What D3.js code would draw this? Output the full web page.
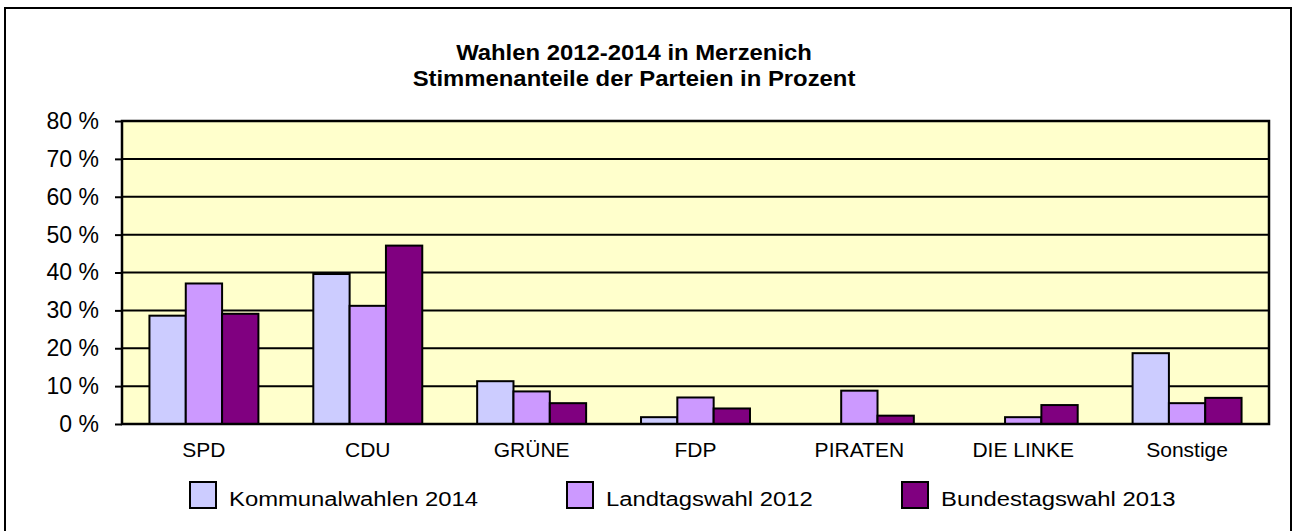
<!DOCTYPE html>
<html>
<head>
<meta charset="utf-8">
<script src="https://cdn.jsdelivr.net/npm/d3@7"></script>
<style>
  body { margin: 0; background: #fff; }
  text { font-family: "Liberation Sans", Arial, sans-serif; fill: #000; }
</style>
</head>
<body>
<script>
const parteien = ['SPD', 'CDU', 'GRÜNE', 'FDP', 'PIRATEN', 'DIE LINKE', 'Sonstige']
const wahlen = ['Kommunalwahlen 2014', 'Landtagswahl 2012', 'Bundestagswahl 2013']
const kommunal2014 = [28.6, 39.6, 11.3, 1.8, 0, 0, 18.7]
const landtag2012 = [37.1, 31.2, 8.6, 7.0, 8.8, 1.8, 5.5]
const bundestag2013 = [29.1, 47.1, 5.5, 4.1, 2.2, 5.0, 6.9]
const yTicks = [0, 10, 20, 30, 40, 50, 60, 70, 80]
const farben = ['#CCCCFF', '#CC99FF', '#800080']

const reihen = [kommunal2014, landtag2012, bundestag2013]
const data = parteien.map((p, i) => ({
  partei: p,
  werte: wahlen.map((w, j) => ({ wahl: w, wert: reihen[j][i] }))
}))

const W = 1297, H = 531
const margin = { top: 121, right: 28, bottom: 107, left: 122 }

const svg = d3.select('body').append('svg')
  .attr('width', W)
  .attr('height', H)

// outer frame
svg.append('rect')
  .attr('x', 5).attr('y', 8)
  .attr('width', W - 11).attr('height', H + 20)
  .style('fill', 'none')
  .style('stroke', '#000')
  .style('stroke-width', 2)

const xScale = d3.scaleBand()
  .domain(parteien)
  .range([margin.left, W - margin.right])
  .paddingInner(0.335)
  .paddingOuter(0.1675)

const xInner = d3.scaleBand()
  .domain(wahlen)
  .range([0, xScale.bandwidth()])

const yScale = d3.scaleLinear()
  .domain([0, 80])
  .range([H - margin.bottom, margin.top])

// plot background
svg.append('rect')
  .attr('x', margin.left).attr('y', margin.top)
  .attr('width', W - margin.left - margin.right)
  .attr('height', H - margin.top - margin.bottom)
  .style('fill', '#FFFFCC')

// gridlines
svg.append('g')
  .selectAll('line')
  .data(yTicks.slice(1, -1))
  .enter().append('line')
  .attr('x1', margin.left).attr('x2', W - margin.right)
  .attr('y1', d => yScale(d)).attr('y2', d => yScale(d))
  .style('stroke', '#000')
  .style('stroke-width', 2)

// bars
const groups = svg.append('g')
  .selectAll('g')
  .data(data)
  .enter().append('g')
  .attr('transform', d => `translate(${xScale(d.partei)},0)`)

groups.selectAll('rect')
  .data(d => d.werte.filter(v => v.wert > 0))
  .enter().append('rect')
  .attr('x', d => xInner(d.wahl))
  .attr('y', d => yScale(d.wert))
  .attr('width', xInner.bandwidth())
  .attr('height', d => yScale(0) - yScale(d.wert))
  .style('fill', d => farben[wahlen.indexOf(d.wahl)])
  .style('stroke', '#000')
  .style('stroke-width', 2)

// plot frame
svg.append('rect')
  .attr('x', margin.left).attr('y', margin.top)
  .attr('width', W - margin.left - margin.right)
  .attr('height', H - margin.top - margin.bottom)
  .style('fill', 'none')
  .style('stroke', '#000')
  .style('stroke-width', 2.5)

// y axis
const yAxis = svg.append('g')
  .attr('transform', `translate(${margin.left},0)`)
  .call(d3.axisLeft(yScale).tickValues(yTicks).tickSize(7).tickPadding(16).tickFormat(d => d + ' %'))
yAxis.select('.domain').remove()
yAxis.selectAll('line').style('stroke', '#000').style('stroke-width', 2)
yAxis.selectAll('text')
  .style('font-family', '"Liberation Sans", Arial, sans-serif')
  .style('font-size', '23px')

// x axis labels
const xAxis = svg.append('g')
  .attr('transform', `translate(0,${H - margin.bottom})`)
  .call(d3.axisBottom(xScale).tickSize(0).tickPadding(18))
xAxis.select('.domain').remove()
xAxis.selectAll('text')
  .style('font-family', '"Liberation Sans", Arial, sans-serif')
  .style('font-size', '21px')

// title (glyphs a bit wider than Arial in the original)
const title = svg.append('g')
  .attr('transform', 'translate(634,0) scale(1.11,1)')
  .append('text')
  .attr('text-anchor', 'middle')
  .style('font-size', '21.5px')
  .style('font-weight', 'bold')
title.append('tspan').attr('x', 0).attr('y', 60).text('Wahlen 2012-2014 in Merzenich')
title.append('tspan').attr('x', 0).attr('y', 86).text('Stimmenanteile der Parteien in Prozent')

// legend
const legendX = [190, 567, 902]
const legend = svg.append('g')
  .selectAll('g')
  .data(wahlen)
  .enter().append('g')
  .attr('transform', (d, i) => `translate(${legendX[i]},482)`)

legend.append('rect')
  .attr('width', 26).attr('height', 26)
  .style('fill', (d, i) => farben[i])
  .style('stroke', '#000')
  .style('stroke-width', 2)

legend.append('text')
  .attr('transform', 'translate(39,24) scale(1.135,1)')
  .style('font-size', '21px')
  .text(d => d)
</script>
</body>
</html>
